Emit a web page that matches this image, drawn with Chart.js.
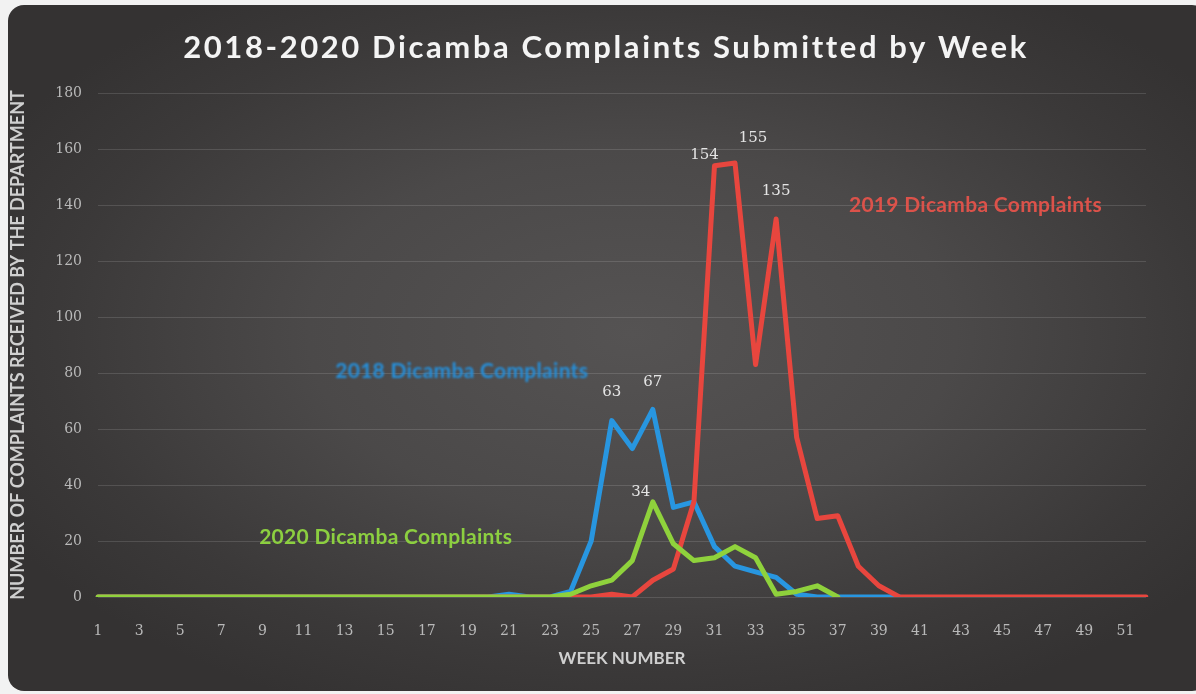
<!DOCTYPE html>
<html>
<head>
<meta charset="utf-8">
<script src="https://cdn.jsdelivr.net/npm/chart.js@4.4.0/dist/chart.umd.min.js"></script>
<style>
  html, body { margin: 0; padding: 0; background: #f2f2f2; }
  #wrap { position: relative; width: 1196px; height: 694px; overflow: hidden; }
  #panel {
    position: absolute; left: 8px; top: 5px; width: 1200px; height: 686px; border-radius: 16px;
    background: radial-gradient(ellipse 60% 60% at 52% 48%, #555353 0%, #4b4949 45%, #3b3939 80%, #343232 100%);
  }
  canvas { position: absolute; left: 0; top: 0; }
</style>
</head>
<body>
<div id="wrap">
  <div id="panel"></div>
  <canvas id="chart" width="1196" height="694"></canvas>
</div>
<script>
// ---- data ----
var TITLE = '2018-2020 Dicamba Complaints Submitted by Week';
var WEEKS = ['1','2','3','4','5','6','7','8','9','10','11','12','13','14','15','16','17','18','19','20',
  '21','22','23','24','25','26','27','28','29','30','31','32','33','34','35','36','37','38','39','40',
  '41','42','43','44','45','46','47','48','49','50','51','52'];

// 2018, weeks 1-40
var C2018 = [0,0,0,0,0,0,0,0,0,0, 0,0,0,0,0,0,0,0,0,0,
  1,0,0,2,20,63,53,67,32,34, 18,11,9,7,1,0,0,0,0,0];
// 2019, weeks 1-52
var C2019 = [0,0,0,0,0,0,0,0,0,0, 0,0,0,0,0,0,0,0,0,0,
  0,0,0,0,0,1,0,6,10,34, 154,155,83,135,57,28,29,11,4,0,
  0,0,0,0,0,0,0,0,0,0, 0,0];
// 2020, weeks 1-37
var C2020 = [0,0,0,0,0,0,0,0,0,0, 0,0,0,0,0,0,0,0,0,0,
  0,0,0,1,4,6,13,34,19,13, 14,18,14,1,2,4,0];

var SERIES_NAMES = ['2018 Dicamba Complaints', '2019 Dicamba Complaints', '2020 Dicamba Complaints'];
var Y_TITLE = 'NUMBER OF COMPLAINTS RECEIVED BY THE DEPARTMENT';
var X_TITLE = 'WEEK NUMBER';

var COLORS = { blue: '#2896e0', red: '#e8463e', green: '#8fd23c', tick: '#b9b9b9', axisTitle: '#cfcfcf' };
var NAME_COLORS = ['#2590dc', '#dc524a', '#8ccf40'];

// ---- point labels (dataset index, week index, offset) ----
var PEAKS = [
  { ds: 0, i: 25, dx: 0, dy: -28 },
  { ds: 0, i: 27, dx: 0, dy: -27 },
  { ds: 2, i: 27, dx: -12, dy: -10 },
  { ds: 1, i: 30, dx: -10, dy: -11 },
  { ds: 1, i: 31, dx: 18, dy: -25 },
  { ds: 1, i: 33, dx: 0, dy: -28 }
];

var peakLabels = {
  id: 'peakLabels',
  afterDatasetsDraw: function(chart) {
    var ctx = chart.ctx;
    ctx.save();
    ctx.font = "15px 'DejaVu Serif'";
    ctx.fillStyle = '#e4e4e4';
    ctx.textAlign = 'center';
    ctx.textBaseline = 'middle';
    PEAKS.forEach(function(p) {
      var pt = chart.getDatasetMeta(p.ds).data[p.i];
      var v = chart.data.datasets[p.ds].data[p.i];
      ctx.fillText(String(v), pt.x + p.dx, pt.y + p.dy);
    });
    ctx.restore();
  }
};

// series names written on the plot, placed in data units
var NAME_POS = [
  { ds: 0, week: 18.7, val: 80.5, blur: true },
  { ds: 1, week: 43.7, val: 140 },
  { ds: 2, week: 15.0, val: 21.5 }
];

var seriesNames = {
  id: 'seriesNames',
  afterDatasetsDraw: function(chart) {
    var ctx = chart.ctx, xs = chart.scales.x, ys = chart.scales.y;
    NAME_POS.forEach(function(n) {
      var x = xs.getPixelForValue(n.week - 1), y = ys.getPixelForValue(n.val);
      ctx.save();
      ctx.font = "bold 21px Lato";
      ctx.letterSpacing = '0.3px';
      ctx.fillStyle = NAME_COLORS[n.ds];
      if (n.blur) ctx.filter = 'blur(1.2px)';
      ctx.textAlign = 'center'; ctx.textBaseline = 'middle';
      ctx.fillText(SERIES_NAMES[n.ds], x, y);
      ctx.restore();
    });
  }
};

var slideTitle = {
  id: 'slideTitle',
  afterDraw: function(chart) {
    var ctx = chart.ctx;
    ctx.save();
    ctx.font = "bold 31px Lato";
    ctx.letterSpacing = '2.6px';
    ctx.fillStyle = '#f4f4f4';
    ctx.textAlign = 'center'; ctx.textBaseline = 'middle';
    ctx.fillText(TITLE, 606, 48);
    ctx.restore();
  }
};

function lineSet(label, data, color, order) {
  return { label: label, data: data, borderColor: color, borderWidth: 5, pointRadius: 0,
    tension: 0, fill: false, order: order, borderJoinStyle: 'round', borderCapStyle: 'round' };
}

new Chart(document.getElementById('chart').getContext('2d'), {
  type: 'line',
  data: {
    labels: WEEKS,
    datasets: [
      lineSet(SERIES_NAMES[0], C2018, COLORS.blue, 3),
      lineSet(SERIES_NAMES[1], C2019, COLORS.red, 2),
      lineSet(SERIES_NAMES[2], C2020, COLORS.green, 1)
    ]
  },
  options: {
    responsive: false, animation: false,
    layout: { padding: { top: 93, left: 0, right: 50, bottom: 0 } },
    plugins: { legend: { display: false }, tooltip: { enabled: false } },
    scales: {
      x: {
        afterFit: function(s) { s.height = 97; },
        grid: { display: false, drawTicks: false },
        border: { display: false },
        ticks: {
          autoSkip: false, maxRotation: 0, padding: 26, color: COLORS.tick,
          font: { family: 'DejaVu Serif', size: 14 },
          callback: function(v, i) { return i % 2 === 0 ? this.getLabelForValue(v) : ''; }
        },
        title: { display: true, text: X_TITLE, color: COLORS.axisTitle,
          font: { family: 'Lato', weight: 'bold', size: 17 }, padding: { top: 0, bottom: 25 } }
      },
      y: {
        min: 0, max: 180,
        afterFit: function(s) { s.width = 98; },
        grid: { color: 'rgba(255,255,255,0.13)', lineWidth: 1, drawTicks: false },
        border: { display: false },
        ticks: { stepSize: 20, padding: 16, color: COLORS.tick, font: { family: 'DejaVu Serif', size: 14 } },
        title: { display: true, text: Y_TITLE, color: COLORS.axisTitle,
          font: { family: 'Lato', weight: 'bold', size: 18 }, padding: { top: 7, bottom: 0 } }
      }
    }
  },
  plugins: [peakLabels, seriesNames, slideTitle]
});
</script>
</body>
</html>
